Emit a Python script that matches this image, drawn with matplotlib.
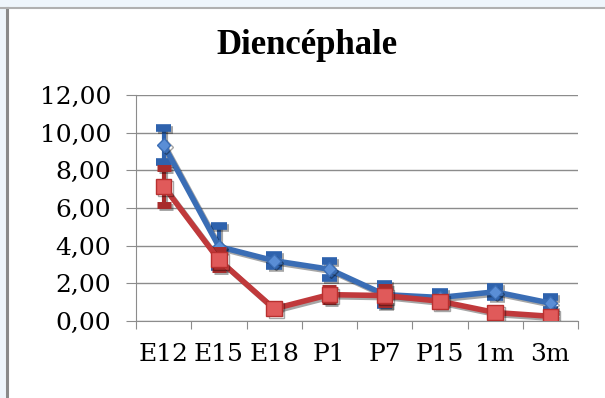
import numpy as np
import matplotlib.pyplot as plt
import matplotlib.patheffects as pe
from matplotlib.lines import Line2D

stades = ['E12', 'E15', 'E18', 'P1', 'P7', 'P15', '1m', '3m']
bleu = [9.35, 3.95, 3.20, 2.75, 1.40, 1.25, 1.55, 0.95]
bleu_err = [0.90, 1.10, 0.30, 0.45, 0.55, 0.30, 0.25, 0.35]
rouge = [7.15, 3.25, 0.65, 1.40, 1.35, 1.05, 0.45, 0.25]
rouge_err = [1.00, 0.50, 0.12, 0.35, 0.45, 0.18, 0.12, 0.10]

plt.rcParams['font.family'] = ['DejaVu Serif']

fig = plt.figure(figsize=(6.05, 3.98), dpi=100)
# cadre gris et fond bleuté autour
fig.patch.set_facecolor('#eef5fb')
fig.patches.append(plt.Rectangle((7/605, 0), 1, 1 - 8/398, transform=fig.transFigure,
                                 facecolor='white', edgecolor='none', zorder=-1))
fig.add_artist(Line2D([7/605, 7/605], [0, 1 - 8/398], color='#8a8a8a', lw=2.2))
fig.add_artist(Line2D([0, 1], [1 - 8/398, 1 - 8/398], color='#b0b0b0', lw=1.5))

ax = fig.add_axes([136/605, 1 - 321/398, 442/605, 226/398])
ax.set_facecolor('white')
x = np.arange(len(stades))

ombre = [pe.SimpleLineShadow(offset=(1.5, -1.5), alpha=0.35), pe.Normal()]

ax.errorbar(x, bleu, yerr=bleu_err, color='#3a6db5', lw=4, marker='D', ms=7,
            mec='#3a6db5', mfc='#5a8ed6', elinewidth=3, capsize=5.5, capthick=5.5,
            ecolor='#2e62ad', zorder=3, path_effects=ombre)
ax.errorbar(x, rouge, yerr=rouge_err, color='#c0393b', lw=4, marker='s', ms=11,
            mec='#b8302f', mfc='#e05a5a', elinewidth=3, capsize=5, capthick=5,
            ecolor='#a82c2c', zorder=4, path_effects=ombre)

ax.set_xlim(-0.5, len(stades) - 0.5)
ax.set_ylim(0, 12)
ax.set_yticks(np.arange(0, 13, 2))
ax.set_yticklabels([f'{v:.2f}'.replace('.', ',') for v in np.arange(0, 13, 2)], fontsize=18)
ax.yaxis.grid(True, color='#8c8c8c', lw=1)
ax.set_axisbelow(True)

ax.set_xticks(np.arange(-0.5, len(stades), 1))
ax.set_xticklabels([])
ax.set_xticks(x, minor=True)
ax.set_xticklabels(stades, minor=True, fontsize=18)
ax.tick_params(axis='x', which='minor', length=0, pad=16)
ax.tick_params(axis='x', which='major', length=6, color='#8c8c8c', direction='out')
ax.tick_params(axis='y', length=7, color='#8c8c8c', pad=11)

for s in ['top', 'right']:
    ax.spines[s].set_visible(False)
for s in ['left', 'bottom']:
    ax.spines[s].set_color('#8c8c8c')

fig.text(307/605, 1 - 46/398, 'Diencéphale', ha='center', va='center',
         fontsize=25, fontweight='bold', family='Liberation Serif')

fig.savefig('out.png', dpi=100, facecolor=fig.get_facecolor())
